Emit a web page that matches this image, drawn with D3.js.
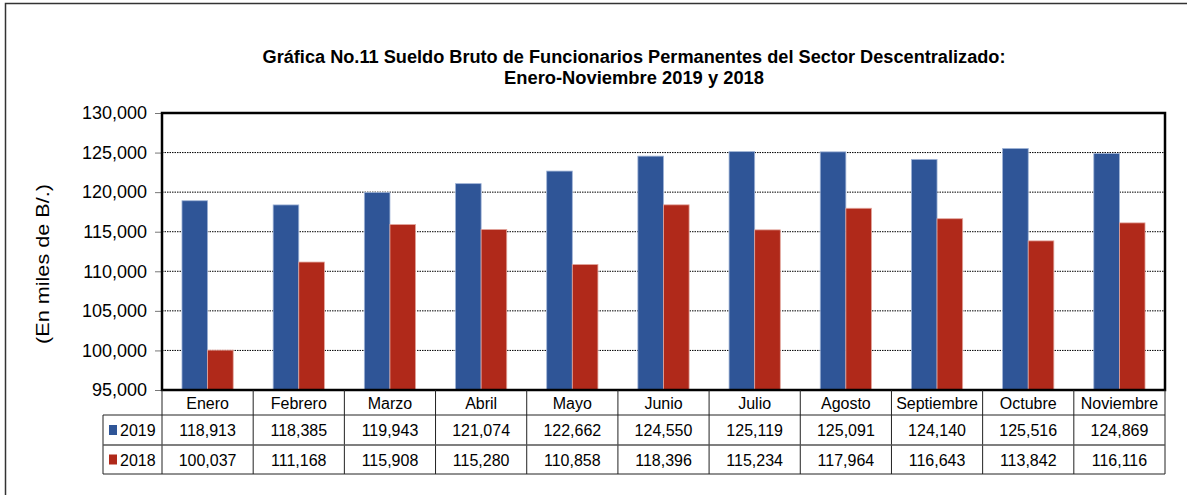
<!DOCTYPE html>
<html>
<head>
<meta charset="utf-8">
<script src="https://cdn.jsdelivr.net/npm/d3@7"></script>
<style>
  body { margin: 0; background: #fff; }
  svg text { font-family: "Liberation Sans", Arial, sans-serif; }
</style>
</head>
<body>
<svg id="chart" width="1187" height="495"></svg>
<script>
const months = ["Enero", "Febrero", "Marzo", "Abril", "Mayo", "Junio", "Julio", "Agosto", "Septiembre", "Octubre", "Noviembre"];
const values2019 = [118913, 118385, 119943, 121074, 122662, 124550, 125119, 125091, 124140, 125516, 124869];
const values2018 = [100037, 111168, 115908, 115280, 110858, 118396, 115234, 117964, 116643, 113842, 116116];
const seriesNames = ["2019", "2018"];
const yTicks = [95000, 100000, 105000, 110000, 115000, 120000, 125000, 130000];
const titleLines = ["Gráfica No.11 Sueldo Bruto de Funcionarios Permanentes del Sector Descentralizado:", "Enero-Noviembre 2019 y 2018"];

const colors = ["#2F5597", "#B0291A"];
const plotL = 162, plotR = 1165, plotT = 113, plotB = 390;
const rowH = [25, 30, 29];
const legendLeft = 103;

const svg = d3.select("#chart");

// outer frame
svg.append("path")
  .attr("d", "M5.5,495 V3.5 H1187")
  .attr("fill", "none").attr("stroke", "#333").attr("stroke-width", 1.5);

// title
svg.append("g").selectAll("text")
  .data(titleLines)
  .enter().append("text")
  .attr("x", 634)
  .attr("y", (d, i) => 63 + i * 21)
  .attr("text-anchor", "middle")
  .attr("font-size", 18)
  .attr("font-weight", "bold")
  .attr("textLength", (d, i) => i === 0 ? 743 : 260)
  .attr("lengthAdjust", "spacingAndGlyphs")
  .text(d => d);

const x = d3.scaleBand().domain(months).range([plotL, plotR]);
const xs = d3.scaleBand().domain(seriesNames).range([0, x.bandwidth()]).paddingInner(0).paddingOuter(0.78);
const y = d3.scaleLinear().domain([95000, 130000]).range([plotB, plotT]);

// gridlines
svg.append("g").selectAll("line")
  .data(yTicks.filter(t => t > 95000 && t < 130000))
  .enter().append("line")
  .attr("x1", plotL).attr("x2", plotR)
  .attr("y1", d => y(d)).attr("y2", d => y(d))
  .attr("stroke", "#000").attr("stroke-width", 1)
  .attr("stroke-dasharray", "1.5,1");

// y axis
const yAxis = svg.append("g")
  .attr("transform", `translate(${plotL},0)`)
  .call(d3.axisLeft(y).tickValues(yTicks).tickSize(7).tickFormat(d3.format(",")));
yAxis.select(".domain").remove();
yAxis.selectAll(".tick line").attr("stroke", "#777");
yAxis.selectAll(".tick text")
  .attr("font-size", 18).attr("x", -15).attr("fill", "#000")
  .attr("font-family", "Liberation Sans, Arial, sans-serif");

svg.append("text")
  .attr("transform", "translate(49,264) rotate(-90)")
  .attr("text-anchor", "middle")
  .attr("font-size", 18)
  .attr("textLength", 160)
  .attr("lengthAdjust", "spacingAndGlyphs")
  .text("(En miles de B/.)");

// bars
const data = months.map((m, i) => ({ month: m, vals: [values2019[i], values2018[i]] }));
const groups = svg.append("g").selectAll("g")
  .data(data)
  .enter().append("g")
  .attr("transform", d => `translate(${x(d.month)},0)`);
groups.selectAll("rect")
  .data(d => d.vals.map((v, j) => ({ key: seriesNames[j], v, j })))
  .enter().append("rect")
  .attr("x", d => xs(d.key))
  .attr("y", d => y(d.v))
  .attr("width", xs.bandwidth())
  .attr("height", d => plotB - y(d.v))
  .attr("fill", d => colors[d.j])
  .attr("stroke", d => d.j === 0 ? "#9fb3d6" : "#e3a69d")
  .attr("stroke-width", 0.8);

// plot frame
svg.append("rect")
  .attr("x", plotL).attr("y", plotT)
  .attr("width", plotR - plotL).attr("height", plotB - plotT)
  .attr("fill", "none").attr("stroke", "#000").attr("stroke-width", 2.5);

// data table
const rowY = [plotB, plotB + rowH[0], plotB + rowH[0] + rowH[1], plotB + rowH[0] + rowH[1] + rowH[2]];
const table = svg.append("g");
// vertical lines
table.selectAll("line.v")
  .data(months.map(m => x(m)).concat([plotR]))
  .enter().append("line")
  .attr("x1", d => d).attr("x2", d => d)
  .attr("y1", plotB).attr("y2", rowY[3])
  .attr("stroke", "#222").attr("stroke-width", 1);
table.append("line")
  .attr("x1", legendLeft).attr("x2", legendLeft)
  .attr("y1", rowY[1]).attr("y2", rowY[3])
  .attr("stroke", "#222");
// horizontal lines
table.selectAll("line.h")
  .data([1, 2, 3])
  .enter().append("line")
  .attr("x1", legendLeft).attr("x2", plotR)
  .attr("y1", d => rowY[d]).attr("y2", d => rowY[d])
  .attr("stroke", d => d === 2 ? "#555" : "#222")
  .attr("stroke-width", d => d === 2 ? 1.5 : 1);

// header text
table.selectAll("text.m")
  .data(months)
  .enter().append("text")
  .attr("x", d => x(d) + x.bandwidth() / 2)
  .attr("y", plotB + 19)
  .attr("text-anchor", "middle")
  .attr("font-size", 16)
  .text(d => d);

// series rows
[values2019, values2018].forEach((vals, j) => {
  const cy = (rowY[j + 1] + rowY[j + 2]) / 2;
  table.append("rect")
    .attr("x", legendLeft + 6).attr("y", cy - 5)
    .attr("width", 8).attr("height", 10)
    .attr("fill", colors[j]);
  table.append("text")
    .attr("x", legendLeft + 17).attr("y", cy + 6)
    .attr("font-size", 16)
    .text(seriesNames[j]);
  table.selectAll("text.v" + j)
    .data(vals)
    .enter().append("text")
    .attr("x", (d, i) => x(months[i]) + x.bandwidth() / 2)
    .attr("y", cy + 6)
    .attr("text-anchor", "middle")
    .attr("font-size", 16)
    .text(d => d3.format(",")(d));
});
</script>
</body>
</html>
